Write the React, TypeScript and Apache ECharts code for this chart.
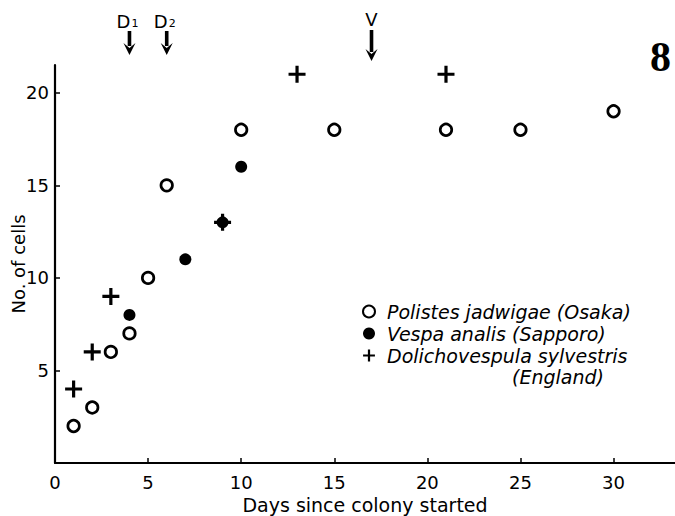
import React, { useEffect, useRef } from 'react';
import * as echarts from 'echarts';

const polistesDays = [1, 2, 3, 4, 5, 6, 10, 15, 21, 25, 30];
const polistesCells = [2, 3, 6, 7, 10, 15, 18, 18, 18, 18, 19];
const vespaDays = [4, 7, 9, 10];
const vespaCells = [8, 11, 13, 16];
const dolichoDays = [1, 2, 3, 9, 13, 21];
const dolichoCells = [4, 6, 9, 13, 21, 21];
const eventDays = [4, 6, 17];
const eventLabels = ['{m|D}{s|1}', '{m|D}{s|2}', '{m|V}'];
const xTicks = [0, 5, 10, 15, 20, 25, 30];
const yTicks = [5, 10, 15, 20];

const SERIES_P = 'Polistes jadwigae (Osaka)';
const SERIES_V = 'Vespa analis (Sapporo)';
const SERIES_D = 'Dolichovespula sylvestris (England)';

const FONT = 'DejaVu Sans';
const PLUS = 'path://M0,6.6L16,6.6L16,9.6L0,9.6Z M6.5,0L9.5,0L9.5,16.2L6.5,16.2Z';

const zip = (a: number[], b: number[]) => a.map((v, i) => [v, b[i]]);

export default function App() {
  const ref = useRef<HTMLDivElement>(null);
  useEffect(() => {
    if (!ref.current) return;
    const chart = echarts.init(ref.current, undefined, { renderer: 'svg' });
    chart.setOption({
      animation: false,
      backgroundColor: '#fff',
      grid: { left: 55, right: 0, top: 65, bottom: 53, outerBoundsMode: 'none', containLabel: false },
      xAxis: {
        type: 'value',
        min: 0,
        max: 33.3,
        interval: 5,
        splitLine: { show: false },
        axisLine: { show: true, lineStyle: { color: '#000', width: 2.2 } },
        axisTick: { show: true, inside: true, length: 5, lineStyle: { color: '#000', width: 1.5 } },
        axisLabel: {
          color: '#000',
          fontFamily: FONT,
          fontSize: 18,
          margin: 10,
          showMaxLabel: false,
          formatter: (v: number) => (xTicks.includes(v) ? String(v) : ''),
        },
        name: 'Days since colony started',
        nameLocation: 'middle',
        nameGap: 32,
        nameMoveOverlap: false,
        nameTextStyle: { color: '#000', fontFamily: FONT, fontSize: 19 },
      },
      yAxis: {
        type: 'value',
        min: 0,
        max: 21.5,
        interval: 5,
        splitLine: { show: false },
        axisLine: { show: true, lineStyle: { color: '#000', width: 2.2 } },
        axisTick: { show: true, inside: true, length: 5, lineStyle: { color: '#000', width: 1.5 } },
        axisLabel: {
          color: '#000',
          fontFamily: FONT,
          fontSize: 18,
          margin: 6,
          showMaxLabel: false,
          formatter: (v: number) => (yTicks.includes(v) ? String(v) : ''),
        },
        name: 'No. of cells',
        nameLocation: 'middle',
        nameGap: 28,
        nameRotate: 90,
        nameMoveOverlap: false,
        nameTextStyle: { color: '#000', fontFamily: FONT, fontSize: 18 },
      },
      legend: {
        orient: 'vertical',
        left: 362,
        top: 302,
        padding: 0,
        itemGap: 3,
        itemWidth: 12,
        itemHeight: 12,
        data: [SERIES_P, SERIES_V, SERIES_D],
        formatter: (n: string) => (n === SERIES_D ? 'Dolichovespula sylvestris' : n),
        textStyle: {
          color: '#000',
          fontFamily: FONT,
          fontSize: 19,
          fontStyle: 'italic',
          padding: [0, 0, 0, 7],
        },
      },
      series: [
        {
          name: SERIES_P,
          type: 'scatter',
          data: zip(polistesDays, polistesCells),
          symbol: 'circle',
          symbolSize: 11.5,
          itemStyle: { color: '#fff', borderColor: '#000', borderWidth: 2.7, opacity: 1 },
          z: 2,
        },
        {
          name: SERIES_V,
          type: 'scatter',
          data: zip(vespaDays, vespaCells),
          symbol: 'circle',
          symbolSize: 12,
          itemStyle: { color: '#000', borderWidth: 0, opacity: 1 },
          z: 3,
        },
        {
          name: SERIES_D,
          type: 'scatter',
          data: zip(dolichoDays, dolichoCells),
          symbol: PLUS,
          symbolSize: 17,
          itemStyle: { color: '#000', borderWidth: 0, opacity: 1 },
          z: 4,
        },
      ],
    });

    const graphics: any[] = [
      {
        type: 'text',
        right: 4,
        top: 36,
        style: { text: '8', font: 'bold 42px "Liberation Serif", serif', fill: '#000' },
      },
      {
        type: 'text',
        left: 512,
        top: 367,
        style: { text: '(England)', font: `italic 19px "${FONT}"`, fill: '#000' },
      },
    ];
    eventDays.forEach((d, i) => {
      const px = chart.convertToPixel({ xAxisIndex: 0 }, d) as number;
      const isV = eventLabels[i] === '{m|V}';
      const top = isV ? 30 : 31;
      const bottom = isV ? 61 : 55;
      const headH = 12;
      graphics.push({
        type: 'group',
        children: [
          {
            type: 'rect',
            shape: { x: px - 1.8, y: top, width: 3.6, height: bottom - top - headH + 3 },
            style: { fill: '#000' },
          },
          {
            type: 'polygon',
            shape: {
              points: [
                [px - 6, bottom - headH],
                [px, bottom - headH + 5],
                [px + 6, bottom - headH],
                [px, bottom],
              ],
            },
            style: { fill: '#000' },
          },
          {
            type: 'text',
            x: isV ? px : px - 2,
            y: isV ? 19 : 21,
            style: {
              text: eventLabels[i],
              align: 'center',
              verticalAlign: 'middle',
              fill: '#000',
              rich: {
                m: { fontFamily: FONT, fontSize: 18, fill: '#000' },
                s: { fontFamily: FONT, fontSize: 11, fill: '#000', padding: [4, 0, 0, 1] },
              },
            },
          },
        ],
      });
    });
    chart.setOption({ graphic: graphics });

    return () => chart.dispose();
  }, []);
  return (
    <div
      ref={ref}
      style={{ position: 'absolute', left: 0, top: 0, width: 675, height: 516, background: '#fff' }}
    />
  );
}
